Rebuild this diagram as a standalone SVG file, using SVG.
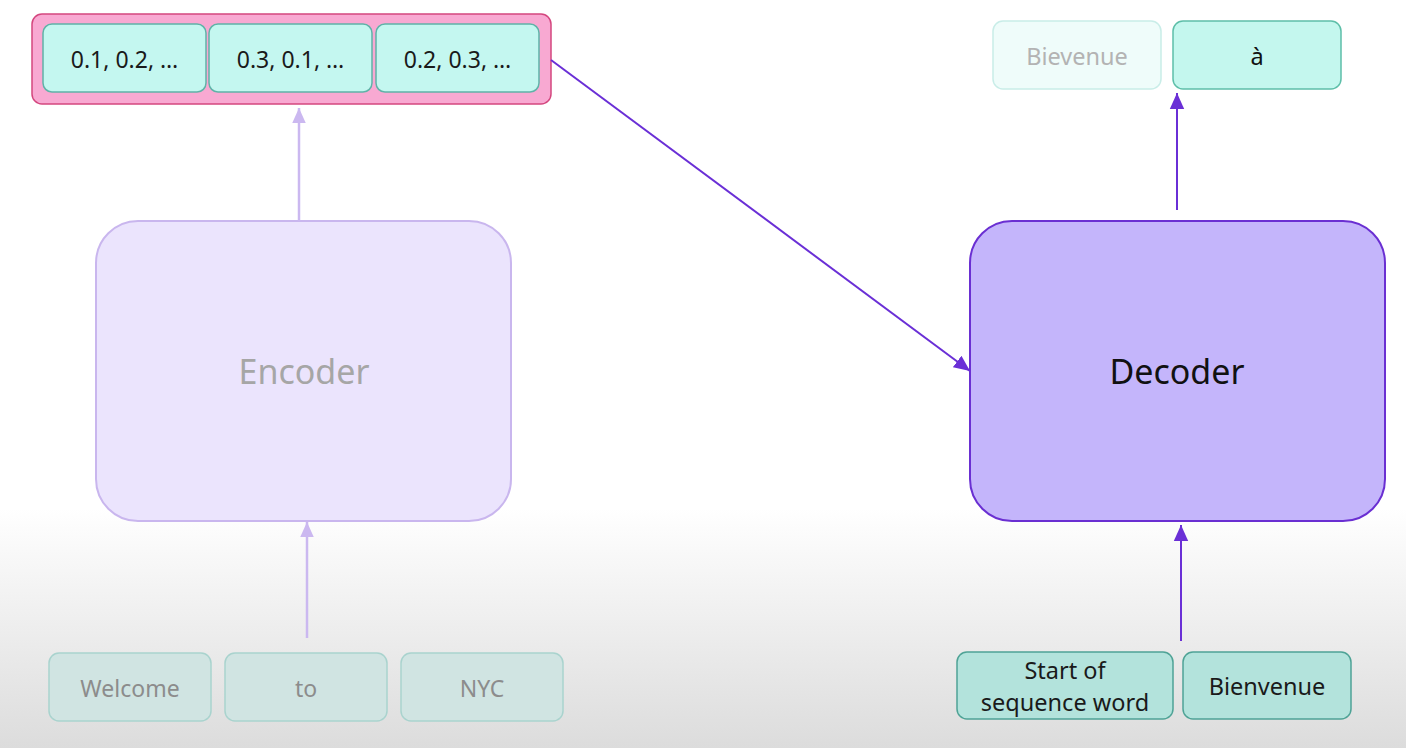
<svg xmlns="http://www.w3.org/2000/svg" width="1406" height="748" viewBox="0 0 1406 748">
<defs>
<linearGradient id="bg" x1="0" y1="0" x2="0" y2="1">
<stop offset="0" stop-color="#ffffff"/>
<stop offset="0.68" stop-color="#ffffff"/>
<stop offset="1" stop-color="#dcdcdc"/>
</linearGradient>
<marker id="ahLight" viewBox="0 0 10 10" refX="10" refY="5" markerWidth="15" markerHeight="15" markerUnits="userSpaceOnUse" orient="auto">
<path d="M0,0.5 L10,5 L0,9.5 z" fill="#cbb8f0"/>
</marker>
<marker id="ahDark" viewBox="0 0 10 10" refX="10" refY="5" markerWidth="16" markerHeight="16" markerUnits="userSpaceOnUse" orient="auto">
<path d="M0,0.5 L10,5 L0,9.5 z" fill="#6a2fd6"/>
</marker>
<style>
text { font-family: "Noto Sans", "Open Sans", sans-serif; text-anchor: middle; dominant-baseline: central; }
.cell { fill: #c4f7f0; stroke: #5fb3a8; stroke-width: 1.5; }
.cellTxt { font-size: 23px; fill: #1a1a1a; }
.tokFaint { fill: #d0e4e2; stroke: #a9d3ce; stroke-width: 1.5; }
.tokFaintTxt { font-size: 23px; fill: #8c8c8c; }
.tok { fill: #b3e3dc; stroke: #4fa396; stroke-width: 1.5; }
.tokTxt { font-size: 23.5px; fill: #1a1a1a; }
.light { stroke: #cbb8f0; stroke-width: 2.5; fill: none; }
.dark { stroke: #6a2fd6; stroke-width: 2; fill: none; }
</style>
</defs>
<rect x="0" y="0" width="1406" height="748" fill="url(#bg)"/>

<g id="embeddings">
<rect x="32" y="14" width="519" height="90" rx="10" fill="#f8a9d2" stroke="#d4477f" stroke-width="1.5"/>
<rect class="cell" x="43" y="24" width="163" height="68" rx="9"/>
<text class="cellTxt" x="124.5" y="59">0.1, 0.2, …</text>
<rect class="cell" x="209" y="24" width="163" height="68" rx="9"/>
<text class="cellTxt" x="290.5" y="59">0.3, 0.1, …</text>
<rect class="cell" x="376" y="24" width="163" height="68" rx="9"/>
<text class="cellTxt" x="457.5" y="59">0.2, 0.3, …</text>
</g>

<g id="encoder">
<rect x="96" y="221" width="415" height="300" rx="42" fill="#ebe4fd" stroke="#c9b6ee" stroke-width="2"/>
<text x="304" y="371" font-size="34" fill="#a6a6a6">Encoder</text>
</g>

<g id="decoder">
<rect x="970" y="221" width="415" height="300" rx="42" fill="#c4b5fb" stroke="#6a2fd2" stroke-width="2"/>
<text x="1177" y="371" font-size="34" fill="#111111">Decoder</text>
</g>

<g id="out-bievenue">
<rect x="993" y="21" width="168" height="68" rx="10" fill="#effcfa" stroke="#c9ede8" stroke-width="1.5"/>
<text x="1077" y="56" font-size="23.5" fill="#b3b3b3">Bievenue</text>
</g>
<g id="out-a">
<rect x="1173" y="21" width="168" height="68" rx="10" fill="#c4f7ee" stroke="#5ebfa9" stroke-width="1.5"/>
<text x="1257" y="56" font-size="23.5" fill="#111111">à</text>
</g>

<g id="in-welcome">
<rect class="tokFaint" x="49" y="653" width="162" height="68" rx="10"/>
<text class="tokFaintTxt" x="130" y="688">Welcome</text>
</g>
<g id="in-to">
<rect class="tokFaint" x="225" y="653" width="162" height="68" rx="10"/>
<text class="tokFaintTxt" x="306" y="688">to</text>
</g>
<g id="in-nyc">
<rect class="tokFaint" x="401" y="653" width="162" height="68" rx="10"/>
<text class="tokFaintTxt" x="482" y="688">NYC</text>
</g>

<g id="dec-sos">
<rect class="tok" x="957" y="652" width="216" height="67" rx="10"/>
<text class="tokTxt" x="1065" y="670">Start of</text>
<text class="tokTxt" x="1065" y="702">sequence word</text>
</g>
<g id="dec-bienvenue">
<rect class="tok" x="1183" y="652" width="168" height="67" rx="10"/>
<text class="tokTxt" x="1267" y="686">Bienvenue</text>
</g>

<g id="connectors">
<line class="light" x1="299" y1="221" x2="299" y2="108" marker-end="url(#ahLight)"/>
<line class="light" x1="307" y1="638" x2="307" y2="522" marker-end="url(#ahLight)"/>
<line class="dark" x1="551" y1="60" x2="970" y2="371" marker-end="url(#ahDark)"/>
<line class="dark" x1="1177" y1="210" x2="1177" y2="93" marker-end="url(#ahDark)"/>
<line class="dark" x1="1181" y1="641" x2="1181" y2="525" marker-end="url(#ahDark)"/>
</g>
</svg>
